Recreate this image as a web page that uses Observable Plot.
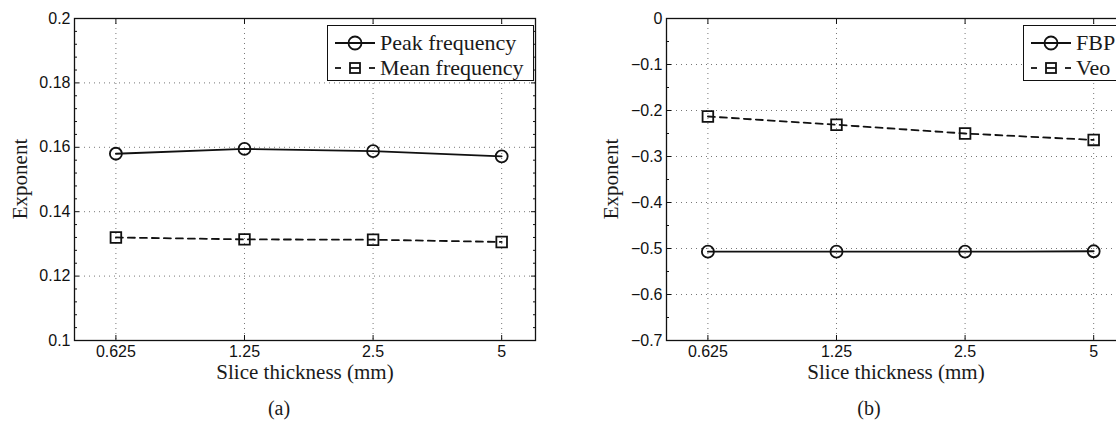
<!DOCTYPE html>
<html><head><meta charset="utf-8">
<script src="https://cdn.jsdelivr.net/npm/d3@7"></script>
<script src="https://cdn.jsdelivr.net/npm/@observablehq/plot@0.6"></script>
<style>
html,body{margin:0;padding:0;background:#fff;width:1116px;height:423px;overflow:hidden;position:relative}
.abs{position:absolute}
.serif{font-family:"Liberation Serif","Times New Roman",Times,"DejaVu Serif",serif;color:#1a1a1a;white-space:nowrap}
.legend{position:absolute;box-sizing:border-box;border:1.4px solid #111;background:#fff}
.legrow{position:absolute;left:0;height:25px;width:100%}
.legrow svg{position:absolute;left:6px;top:0}
.legrow span{position:absolute;left:52px;top:0;line-height:25px;font-size:22px}
svg text{font-family:"Liberation Sans",Arial,Helvetica,sans-serif}
</style></head><body>
<script>
// ---- data ----
const thickness = [0.625, 1.25, 2.5, 5];
const peakFrequency = [0.1580, 0.1595, 0.1588, 0.1572];
const meanFrequency = [0.1320, 0.1314, 0.1313, 0.1306];
const fbp = [-0.507, -0.507, -0.507, -0.506];
const veo = [-0.213, -0.231, -0.250, -0.264];

const xTicks = [0.625, 1.25, 2.5, 5];
const xTickLabels = ["0.625", "1.25", "2.5", "5"];
const yTicksA = [0.1, 0.12, 0.14, 0.16, 0.18, 0.2];
const yTickLabelsA = ["0.1", "0.12", "0.14", "0.16", "0.18", "0.2"];
const yMinorA = [0.104,0.108,0.112,0.116,0.124,0.128,0.132,0.136,0.144,0.148,0.152,0.156,0.164,0.168,0.172,0.176,0.184,0.188,0.192,0.196];
const yTicksB = [-0.7, -0.6, -0.5, -0.4, -0.3, -0.2, -0.1, 0];
const yTickLabelsB = ["\u22120.7", "\u22120.6", "\u22120.5", "\u22120.4", "\u22120.3", "\u22120.2", "\u22120.1", "0"];
const yMinorB = [-0.65, -0.55, -0.45, -0.35, -0.25, -0.15, -0.05];

const seriesA = [
  {name: "Peak frequency", values: peakFrequency, symbol: "circle", dash: null},
  {name: "Mean frequency", values: meanFrequency, symbol: "square", dash: "7,5"}
];
const seriesB = [
  {name: "FBP", values: fbp, symbol: "circle", dash: null},
  {name: "Veo", values: veo, symbol: "square", dash: "7,5"}
];

function panel({left, width, marginLeft, marginRight, yDomain, yTicks, yLabels, yMinor, series}) {
  const fmtY = d => { const i = yTicks.findIndex(t => Math.abs(t - d) < 1e-9); return i >= 0 ? yLabels[i] : ""; };
  const marks = [
    Plot.gridX(xTicks, {stroke: "#777", strokeOpacity: 1, strokeWidth: 1, strokeDasharray: "1,4"}),
    Plot.gridY(yTicks, {stroke: "#777", strokeOpacity: 1, strokeWidth: 1, strokeDasharray: "1,4"}),
    Plot.axisX(xTicks, {anchor: "bottom", tickSize: -5, tickFormat: () => "", label: null}),
    Plot.axisX(xTicks, {anchor: "top", tickSize: -5, tickFormat: () => "", label: null}),
    Plot.text(xTicks, {x: d => d, text: (d, i) => xTickLabels[i], frameAnchor: "bottom", lineAnchor: "top", dy: 5, fill: "#111"}),
    Plot.axisY(yTicks, {anchor: "left", tickSize: -5, tickPadding: 9, tickFormat: fmtY, label: null}),
    Plot.axisY(yTicks, {anchor: "right", tickSize: -5, tickFormat: () => "", label: null}),
    Plot.axisY(yMinor, {anchor: "left", tickSize: -3, tickFormat: () => "", label: null}),
    Plot.axisY(yMinor, {anchor: "right", tickSize: -3, tickFormat: () => "", label: null})
  ];
  for (const s of series) {
    const rows = thickness.map((t, i) => ({x: t, y: s.values[i]}));
    marks.push(Plot.line(rows, {x: "x", y: "y", stroke: "#111", strokeWidth: 1.8, strokeDasharray: s.dash}));
    marks.push(Plot.dot(rows, {x: "x", y: "y", symbol: s.symbol, r: 6, fill: "none", stroke: "#111", strokeWidth: 1.8}));
  }
  marks.push(Plot.frame({stroke: "#111", strokeWidth: 1.3}));
  const svg = Plot.plot({
    width, height: 423,
    marginLeft, marginRight, marginTop: 18, marginBottom: 83,
    x: {type: "log", base: 2, domain: [0.5, 6]},
    y: {domain: yDomain},
    style: {fontFamily: "'Liberation Sans', Arial, Helvetica, sans-serif", fontSize: "16px", color: "#111", background: "transparent"},
    marks
  });
  svg.style.position = "absolute";
  svg.style.left = left + "px";
  svg.style.top = "0px";
  document.body.appendChild(svg);
}

panel({left: 0, width: 560, marginLeft: 74, marginRight: 25, yDomain: [0.1, 0.2], yTicks: yTicksA, yLabels: yTickLabelsA, yMinor: yMinorA, series: seriesA});
panel({left: 560, width: 580, marginLeft: 106, marginRight: 13, yDomain: [-0.7, 0], yTicks: yTicksB, yLabels: yTickLabelsB, yMinor: yMinorB, series: seriesB});

function addText(txt, cx, top, size, rotate) {
  const d = document.createElement("div");
  d.className = "abs serif";
  d.textContent = txt;
  d.style.fontSize = size + "px";
  d.style.lineHeight = size + "px";
  d.style.left = cx + "px";
  d.style.top = top + "px";
  d.style.transform = rotate ? "translate(-50%,-50%) rotate(-90deg)" : "translateX(-50%)";
  document.body.appendChild(d);
}
addText("Slice thickness (mm)", 305, 362, 21);
addText("Slice thickness (mm)", 896, 362, 21);
addText("Exponent", 20, 179, 21, true);
addText("Exponent", 611, 179, 21, true);
addText("(a)", 279, 398, 20);
addText("(b)", 869, 398, 20);

function legend(left, top, width, series) {
  const box = document.createElement("div");
  box.className = "legend";
  box.style.left = left + "px";
  box.style.top = top + "px";
  box.style.width = width + "px";
  box.style.height = "56px";
  series.forEach((s, i) => {
    const row = document.createElement("div");
    row.className = "legrow serif";
    row.style.top = (4 + i * 25) + "px";
    const ns = "http://www.w3.org/2000/svg";
    const sv = document.createElementNS(ns, "svg");
    sv.setAttribute("width", 44); sv.setAttribute("height", 25);
    const mk = (tag, attrs) => { const e = document.createElementNS(ns, tag); for (const k in attrs) e.setAttribute(k, attrs[k]); e.setAttribute("stroke", "#111"); e.setAttribute("stroke-width", 1.8); sv.appendChild(e); };
    if (s.dash) {
      mk("line", {x1: 1, x2: 7, y1: 13, y2: 13});
      mk("line", {x1: 35, x2: 41, y1: 13, y2: 13});
      mk("line", {x1: 16, x2: 26, y1: 13, y2: 13});
      mk("rect", {x: 16, y: 8, width: 10, height: 10, fill: "none"});
    } else {
      mk("line", {x1: 1, x2: 41, y1: 13, y2: 13});
      mk("circle", {cx: 21, cy: 13, r: 6.5, fill: "none"});
    }
    row.appendChild(sv);
    const sp = document.createElement("span");
    sp.textContent = s.name;
    row.appendChild(sp);
    box.appendChild(row);
  });
  document.body.appendChild(box);
}
legend(327, 25, 207, seriesA);
legend(1023, 25, 103, seriesB);
</script>
</body></html>
